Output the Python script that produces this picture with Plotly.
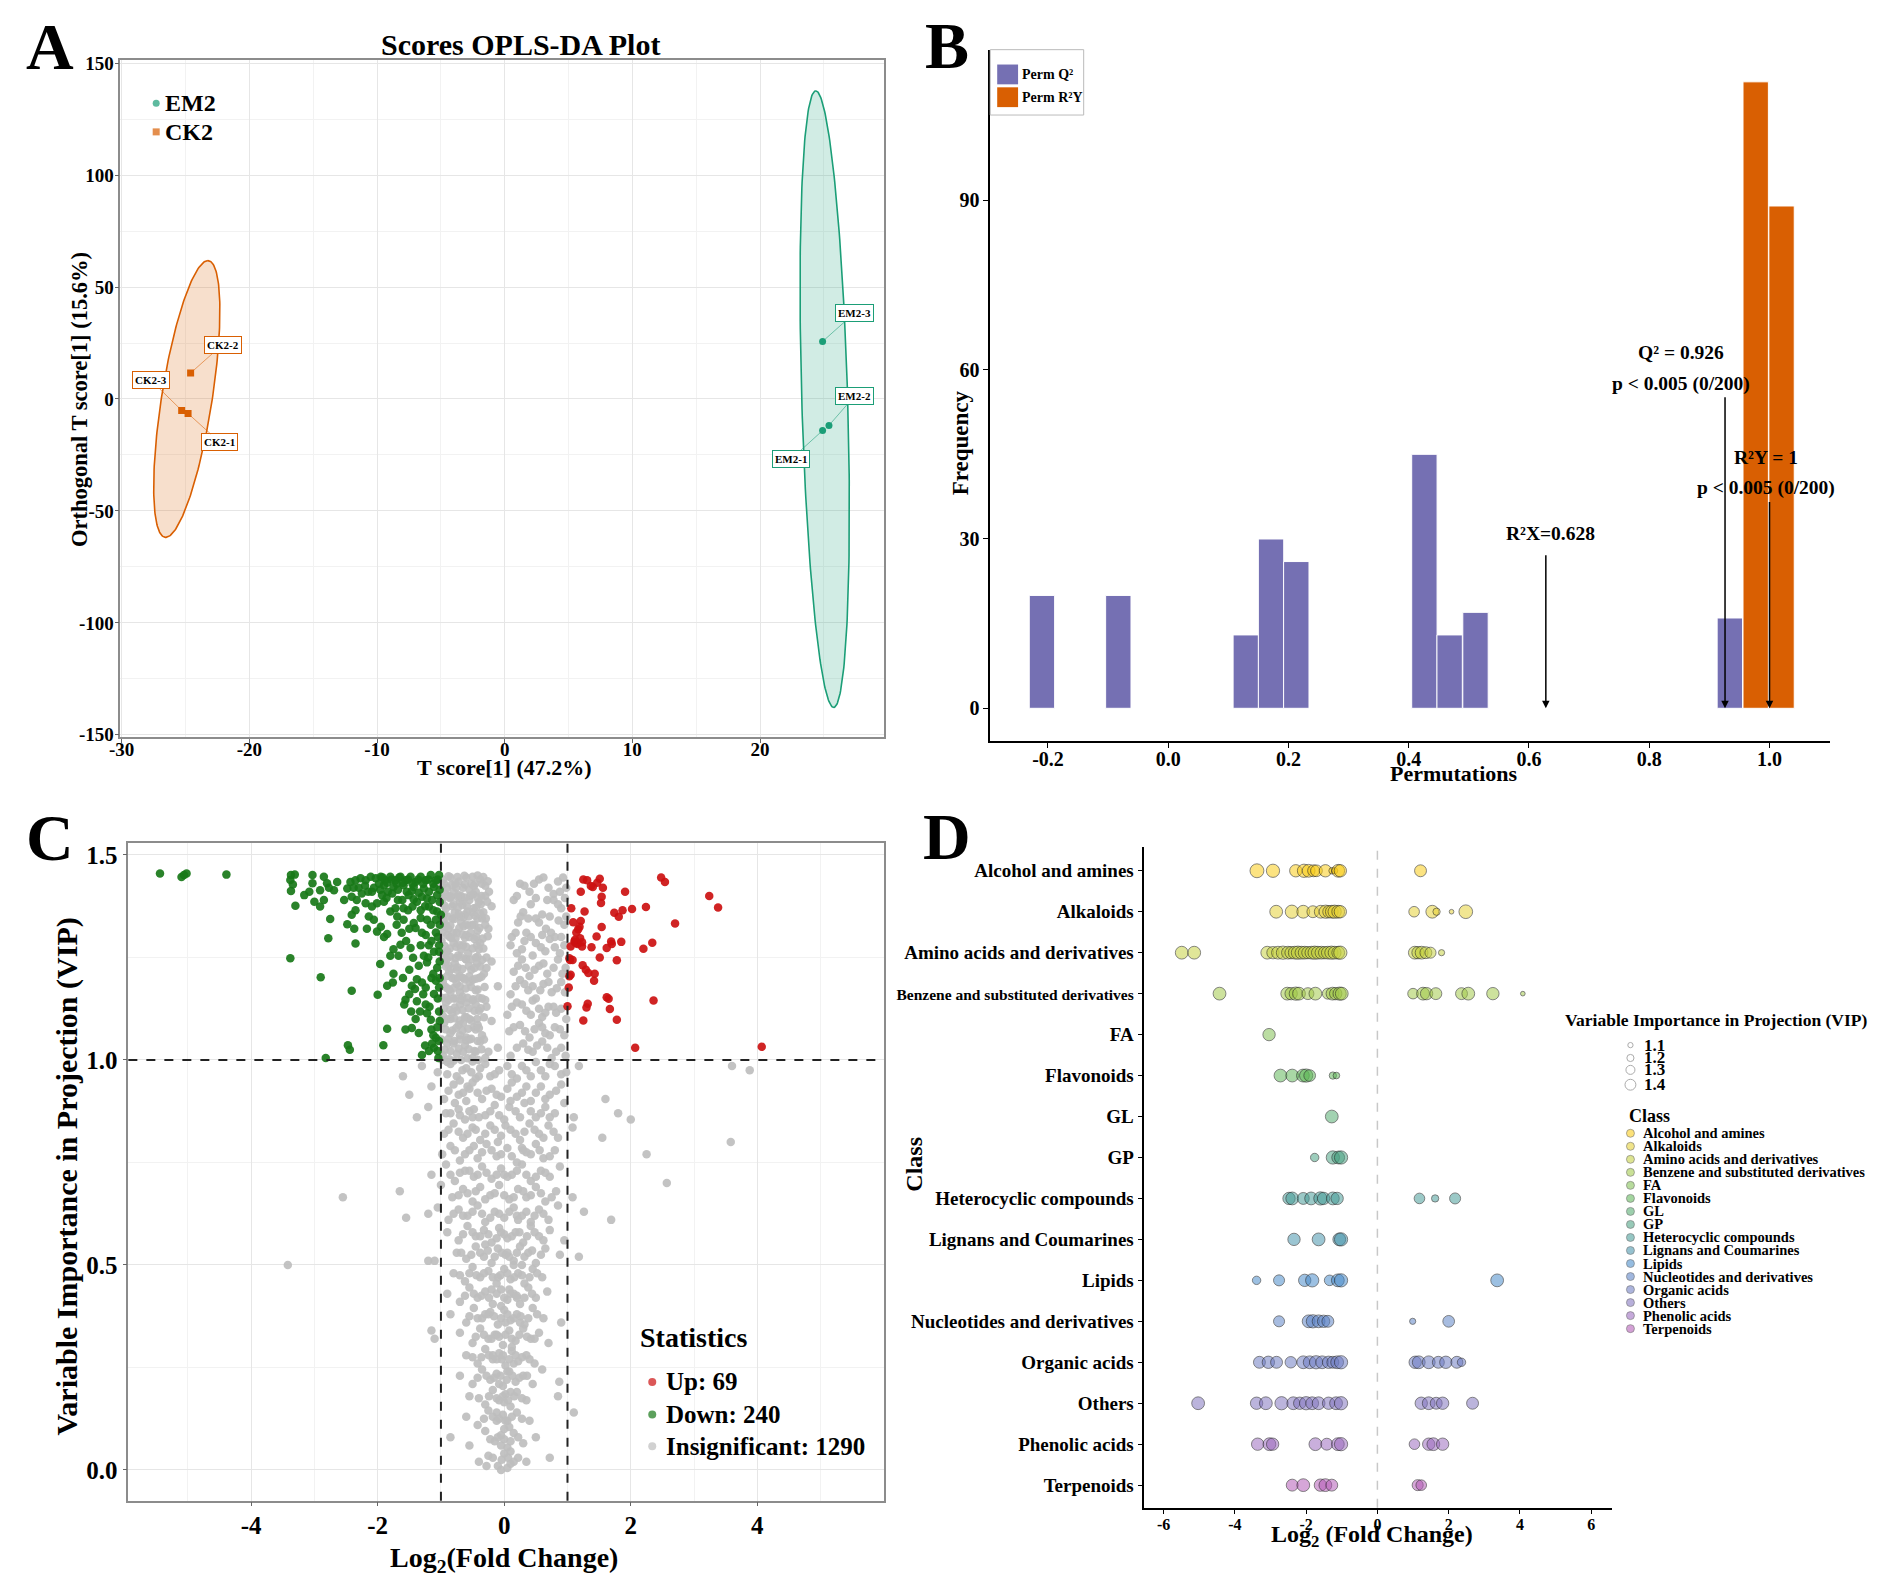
import numpy as np
import plotly.graph_objects as go

W, H = 1881, 1594
PAD = 8                      # default body margin of the html page
FW, FH = W - 2 * PAD, H - 2 * PAD
FONT = "Liberation Serif"


def px(x):
    return (x - PAD) / FW


def py(y):
    return 1 - (y - PAD) / FH


def rgba(hex_col, a):
    h = hex_col.lstrip("#")
    return "rgba(%d,%d,%d,%.2f)" % (int(h[0:2], 16), int(h[2:4], 16), int(h[4:6], 16), a)


##########
# A : OPLS-DA scores
##########
em2_names = ["EM2-1", "EM2-2", "EM2-3"]
em2_t = [24.9, 25.4, 24.9]
em2_o = [-14.1, -11.8, 25.7]
ck2_names = ["CK2-1", "CK2-2", "CK2-3"]
ck2_t = [-24.8, -24.6, -25.3]
ck2_o = [-6.5, 11.6, -5.1]
# where the repel labels sit
em2_lab_t = [22.4, 27.4, 27.4]
em2_lab_o = [-27.0, 1.3, 38.4]
ck2_lab_t = [-22.3, -22.1, -27.7]
ck2_lab_o = [-19.4, 24.3, 8.3]
# ellipse: (x shift at top, half height, half width at centre)
em2_ell = [-0.7, 137.7, 1.8]
ck2_ell = [1.65, 61.8, 2.0]
a_xticks = [-30, -20, -10, 0, 10, 20]
a_yticks = [-150, -100, -50, 0, 50, 100, 150]

##########
# B : permutation histogram
##########
q2_bins = [-0.210, -0.083, 0.129, 0.171, 0.213, 0.426, 0.468, 0.511, 0.934]
q2_counts = [20, 20, 13, 30, 26, 45, 13, 17, 16]
r2y_bins = [0.977, 1.020]
r2y_counts = [111, 89]
bin_w = 0.0422
b_xticks = [-0.2, 0.0, 0.2, 0.4, 0.6, 0.8, 1.0]
b_yticks = [0, 30, 60, 90]
r2x_val, q2_val, r2y_val = 0.628, 0.926, 1.0

##########
# C : volcano (log2FC, VIP)
##########
up_pts = [(1.25, 1.44), (1.31, 1.438), (1.51, 1.442), (1.47, 1.432), (1.40, 1.422), (1.56, 1.42),
          (1.21, 1.41), (1.54, 1.398), (1.53, 1.383), (1.91, 1.41), (2.48, 1.445), (2.54, 1.434),
          (3.24, 1.40), (3.38, 1.372), (1.06, 1.37), (1.27, 1.362), (1.74, 1.359), (1.81, 1.349),
          (1.87, 1.365), (2.02, 1.368), (2.24, 1.373), (2.70, 1.333), (1.09, 1.336), (1.21, 1.339),
          (1.54, 1.324), (1.17, 1.319), (1.14, 1.311), (1.20, 1.297), (1.46, 1.301), (1.11, 1.289),
          (1.16, 1.283), (1.23, 1.277), (1.38, 1.275), (1.69, 1.289), (1.70, 1.283), (1.62, 1.273),
          (1.85, 1.288), (2.20, 1.271), (2.34, 1.286), (1.04, 1.244), (1.08, 1.244), (1.51, 1.25),
          (1.78, 1.243), (1.24, 1.231), (1.29, 1.22), (1.33, 1.212), (1.43, 1.21), (1.42, 1.193),
          (1.03, 1.204), (1.02, 1.177), (1.62, 1.153), (1.65, 1.149), (2.36, 1.145), (1.32, 1.137),
          (1.30, 1.128), (1.00, 1.131), (1.67, 1.124), (1.25, 1.096), (1.78, 1.098), (2.07, 1.03),
          (4.07, 1.032), (1.13, 1.285), (1.05, 1.277), (1.19, 1.325), (1.03, 1.248), (1.12, 1.293),
          (1.23, 1.287), (1.37, 1.424), (1.05, 1.208)]

down_pts = [(-5.44, 1.455), (-5.10, 1.446), (-5.06, 1.451), (-5.02, 1.455), (-4.39, 1.452),
            (-3.37, 1.451), (-3.31, 1.452), (-3.38, 1.439), (-3.34, 1.428), (-3.37, 1.412),
            (-3.30, 1.376), (-3.16, 1.402), (-3.08, 1.41), (-3.03, 1.451), (-3.03, 1.431),
            (-2.91, 1.414), (-2.85, 1.447), (-2.80, 1.431), (-2.77, 1.42), (-2.64, 1.434),
            (-2.69, 1.414), (-3.00, 1.386), (-2.91, 1.374), (-2.85, 1.39), (-2.75, 1.344),
            (-2.78, 1.297), (-3.38, 1.248), (-2.90, 1.202), (-2.53, 1.39), (-2.48, 1.418),
            (-2.43, 1.434), (-2.35, 1.438), (-2.27, 1.443), (-2.19, 1.438), (-2.11, 1.447),
            (-2.03, 1.443), (-1.95, 1.447), (-1.88, 1.438), (-1.80, 1.447), (-1.72, 1.438),
            (-1.64, 1.447), (-1.56, 1.438), (-1.48, 1.447), (-1.40, 1.434), (-1.32, 1.447),
            (-1.24, 1.438), (-1.16, 1.451), (-1.08, 1.438), (-1.03, 1.451), (-1.90, 1.426),
            (-1.75, 1.422), (-1.59, 1.426), (-1.43, 1.422), (-1.27, 1.418), (-1.11, 1.422),
            (-2.41, 1.398), (-2.33, 1.39), (-2.25, 1.406), (-2.09, 1.41), (-1.93, 1.402),
            (-1.77, 1.406), (-1.61, 1.39), (-1.51, 1.402), (-1.38, 1.386), (-1.22, 1.394),
            (-1.06, 1.402), (-2.35, 1.365), (-2.19, 1.382), (-2.09, 1.374), (-2.01, 1.382),
            (-1.90, 1.386), (-1.80, 1.362), (-1.69, 1.35), (-1.59, 1.37), (-1.45, 1.374),
            (-1.32, 1.365), (-1.19, 1.374), (-1.06, 1.362), (-2.41, 1.354), (-2.14, 1.35),
            (-2.06, 1.342), (-1.95, 1.325), (-1.85, 1.307), (-2.01, 1.313), (-2.17, 1.32),
            (-2.48, 1.331), (-2.37, 1.32), (-2.35, 1.284), (-1.59, 1.342), (-1.43, 1.334),
            (-1.40, 1.322), (-1.32, 1.346), (-1.22, 1.342), (-1.16, 1.33), (-1.08, 1.342),
            (-1.00, 1.354), (-1.24, 1.305), (-1.08, 1.311), (-1.64, 1.281), (-1.75, 1.27),
            (-1.80, 1.254), (-1.67, 1.254), (-1.48, 1.273), (-1.44, 1.249), (-1.32, 1.28),
            (-1.27, 1.254), (-1.22, 1.238), (-1.19, 1.28), (-1.11, 1.264), (-1.03, 1.28),
            (-1.03, 1.264), (-1.96, 1.234), (-1.75, 1.21), (-1.85, 1.181), (-1.76, 1.189),
            (-2.00, 1.159), (-2.41, 1.169), (-1.46, 1.181), (-1.38, 1.197), (-1.30, 1.189),
            (-1.41, 1.173), (-1.24, 1.177), (-1.12, 1.21), (-1.08, 1.193), (-1.03, 1.177),
            (-1.11, 1.161), (-1.56, 1.147), (-1.58, 1.135), (-1.47, 1.118), (-1.38, 1.143),
            (-1.24, 1.135), (-1.33, 1.118), (-1.22, 1.114), (-1.16, 1.098), (-1.03, 1.118),
            (-1.85, 1.076), (-1.56, 1.074), (-1.46, 1.078), (-1.35, 1.066), (-1.15, 1.074),
            (-1.08, 1.054), (-1.03, 1.046), (-1.11, 1.03), (-1.19, 1.022), (-1.30, 1.012),
            (-1.05, 1.022), (-2.47, 1.036), (-2.44, 1.025), (-1.91, 1.036), (-2.82, 1.005),
            # packed band just under the top
            (-1.98, 1.43), (-1.92, 1.445), (-1.85, 1.432), (-1.78, 1.44), (-1.70, 1.43), (-1.66, 1.445),
            (-1.60, 1.432), (-1.52, 1.44), (-1.45, 1.43), (-1.36, 1.44), (-1.28, 1.43), (-1.20, 1.44),
            (-1.12, 1.43), (-1.05, 1.44), (-1.96, 1.415), (-1.84, 1.41), (-1.68, 1.415), (-1.54, 1.41),
            (-1.46, 1.412), (-1.35, 1.408), (-1.19, 1.41), (-1.02, 1.415), (-2.20, 1.425), (-2.15, 1.41),
            (-2.06, 1.42), (-2.30, 1.42), (-2.38, 1.42), (-1.86, 1.395), (-1.68, 1.39), (-1.43, 1.392),
            (-1.30, 1.398), (-1.14, 1.39), (-1.02, 1.385), (-1.72, 1.37), (-1.52, 1.365), (-1.25, 1.375),
            (-1.12, 1.365), (-1.02, 1.33), (-1.05, 1.30), (-1.02, 1.24), (-1.06, 1.225), (-1.02, 1.20),
            (-1.05, 1.15), (-1.02, 1.095), (-1.06, 1.08), (-1.04, 1.005), (-1.14, 1.04), (-1.25, 1.035),
            (-1.50, 1.32), (-1.62, 1.31), (-1.70, 1.33), (-1.90, 1.30), (-1.55, 1.29), (-1.30, 1.31),
            (-1.15, 1.29), (-1.20, 1.25), (-1.35, 1.23), (-1.50, 1.22), (-1.60, 1.20), (-1.15, 1.20),
            (-1.28, 1.16), (-1.50, 1.16), (-1.18, 1.13), (-1.40, 1.10), (-1.12, 1.06)]

insig_pts = [
    (-0.97, 1.44), (-0.9, 1.42), (-0.85, 1.445), (-0.8, 1.41), (-0.72, 1.435), (-0.65, 1.42), (-0.6, 1.445),
    (-0.52, 1.43), (-0.45, 1.41), (-0.38, 1.44), (-0.3, 1.425), (0.25, 1.43), (0.4, 1.41), (0.55, 1.44),
    (0.7, 1.42), (0.85, 1.435), (0.93, 1.445), (-0.93, 1.405), (-0.68, 1.40), (-0.55, 1.415), (0.62, 1.445),
    (0.78, 1.405),
    (-0.98, 1.39), (-0.92, 1.37), (-0.86, 1.395), (-0.78, 1.36), (-0.7, 1.385), (-0.62, 1.355), (-0.55, 1.39),
    (-0.48, 1.37), (-0.4, 1.385), (-0.33, 1.36), (-0.2, 1.375), (0.15, 1.39), (0.3, 1.36), (0.42, 1.38),
    (0.6, 1.355), (0.78, 1.39), (0.9, 1.37), (-0.95, 1.355), (-0.74, 1.398), (-0.58, 1.362),
    (-0.96, 1.34), (-0.88, 1.32), (-0.82, 1.345), (-0.75, 1.31), (-0.68, 1.335), (-0.6, 1.305), (-0.5, 1.33),
    (-0.42, 1.315), (-0.35, 1.345), (-0.25, 1.32), (0.12, 1.30), (0.22, 1.335), (0.35, 1.31), (0.5, 1.345),
    (0.66, 1.32), (0.8, 1.30), (0.95, 1.33), (-0.9, 1.305), (-0.64, 1.348),
    (-0.99, 1.29), (-0.9, 1.265), (-0.8, 1.285), (-0.73, 1.255), (-0.65, 1.28), (-0.57, 1.26), (-0.47, 1.295),
    (-0.4, 1.27), (-0.28, 1.25), (0.1, 1.28), (0.2, 1.26), (0.32, 1.29), (0.45, 1.255), (0.58, 1.275),
    (0.72, 1.295), (0.88, 1.26), (-0.85, 1.252), (-0.62, 1.298),
    (-0.95, 1.24), (-0.87, 1.215), (-0.78, 1.235), (-0.7, 1.205), (-0.6, 1.245), (-0.52, 1.22), (-0.43, 1.235),
    (-0.32, 1.21), (-0.2, 1.24), (0.15, 1.215), (0.28, 1.245), (0.4, 1.205), (0.55, 1.23), (0.68, 1.21),
    (0.85, 1.245), (0.97, 1.225), (-0.82, 1.2),
    (-0.97, 1.19), (-0.85, 1.165), (-0.75, 1.185), (-0.66, 1.155), (-0.55, 1.19), (-0.45, 1.17), (-0.35, 1.15),
    (-0.1, 1.18), (0.1, 1.16), (0.25, 1.195), (0.38, 1.17), (0.5, 1.15), (0.62, 1.185), (0.75, 1.165),
    (0.9, 1.19), (-0.92, 1.152),
    (-0.92, 1.14), (-0.82, 1.115), (-0.7, 1.135), (-0.6, 1.105), (-0.5, 1.145), (-0.4, 1.12), (-0.28, 1.13),
    (0.05, 1.11), (0.2, 1.14), (0.35, 1.12), (0.45, 1.145), (0.6, 1.105), (0.7, 1.13), (0.82, 1.115),
    (-0.97, 1.108),
    (-0.95, 1.09), (-0.85, 1.065), (-0.72, 1.085), (-0.6, 1.055), (-0.48, 1.08), (-0.35, 1.06), (-0.2, 1.095),
    (0.08, 1.07), (0.25, 1.085), (0.4, 1.055), (0.55, 1.09), (0.65, 1.065), (0.8, 1.08), (0.95, 1.06),
    (-0.9, 1.04), (-0.75, 1.015), (-0.62, 1.035), (-0.5, 1.005), (-0.38, 1.045), (-0.25, 1.02), (-0.1, 1.03),
    (0.1, 1.01), (0.3, 1.04), (0.45, 1.02), (0.6, 1.045), (0.75, 1.005), (0.9, 1.03), (-0.97, 1.012),
    (-1.6, 0.96), (-1.3, 0.985), (-1.05, 0.97), (-0.9, 0.995), (-0.75, 0.96), (-0.6, 0.98), (-0.45, 0.955),
    (-0.3, 0.99), (-0.15, 0.965), (0.05, 0.985), (0.2, 0.955), (0.35, 0.975), (0.5, 0.995), (0.65, 0.96),
    (0.8, 0.985), (0.98, 0.97), (1.18, 0.985), (3.6, 0.985), (3.88, 0.975),
    (-1.5, 0.915), (-1.15, 0.935), (-0.95, 0.905), (-0.8, 0.94), (-0.65, 0.92), (-0.5, 0.945), (-0.35, 0.905),
    (-0.2, 0.93), (-0.05, 0.91), (0.12, 0.945), (0.28, 0.92), (0.42, 0.9), (0.58, 0.935), (0.72, 0.915),
    (0.9, 0.94), (1.6, 0.905),
    (-1.38, 0.86), (-1.2, 0.885), (-0.92, 0.87), (-0.78, 0.895), (-0.62, 0.855), (-0.48, 0.88), (-0.3, 0.865),
    (-0.15, 0.89), (0.0, 0.855), (0.18, 0.875), (0.32, 0.895), (0.5, 0.86), (0.65, 0.885), (0.8, 0.87),
    (0.95, 0.895), (1.1, 0.86), (1.8, 0.87), (2.0, 0.855),
    (-0.95, 0.82), (-0.8, 0.845), (-0.65, 0.81), (-0.5, 0.835), (-0.38, 0.805), (-0.22, 0.84), (-0.05, 0.815),
    (0.1, 0.83), (0.25, 0.805), (0.4, 0.845), (0.55, 0.82), (0.7, 0.84), (0.85, 0.81), (1.08, 0.835),
    (1.55, 0.81), (3.58, 0.8),
    (-0.98, 0.77), (-0.85, 0.79), (-0.7, 0.755), (-0.55, 0.78), (-0.42, 0.76), (-0.28, 0.795), (-0.12, 0.765),
    (0.05, 0.785), (0.2, 0.75), (0.35, 0.775), (0.5, 0.795), (0.62, 0.76), (0.8, 0.78), (2.25, 0.77),
    (-1.15, 0.72), (-0.92, 0.745), (-0.78, 0.705), (-0.62, 0.73), (-0.48, 0.715), (-0.35, 0.74), (-0.2, 0.71),
    (-0.05, 0.735), (0.12, 0.72), (0.28, 0.745), (0.42, 0.705), (0.58, 0.73), (0.72, 0.715), (0.88, 0.74),
    (2.57, 0.7),
    (-2.55, 0.665), (-1.65, 0.68), (-1.0, 0.695), (-0.82, 0.665), (-0.65, 0.685), (-0.5, 0.655), (-0.38, 0.69),
    (-0.22, 0.67), (-0.08, 0.695), (0.08, 0.66), (0.22, 0.685), (0.35, 0.665), (0.5, 0.69), (0.65, 0.655),
    (0.82, 0.68), (1.08, 0.665),
    (-1.55, 0.615), (-1.2, 0.625), (-1.05, 0.64), (-0.88, 0.61), (-0.72, 0.635), (-0.58, 0.62), (-0.42, 0.645),
    (-0.3, 0.605), (-0.15, 0.63), (0.0, 0.615), (0.15, 0.64), (0.28, 0.62), (0.42, 0.605), (0.55, 0.635),
    (0.7, 0.61), (0.85, 0.645), (1.26, 0.63), (1.69, 0.61),
    (-0.9, 0.58), (-0.72, 0.56), (-0.58, 0.595), (-0.45, 0.57), (-0.32, 0.585), (-0.2, 0.555), (-0.08, 0.59),
    (0.05, 0.565), (0.18, 0.58), (0.3, 0.555), (0.42, 0.595), (0.55, 0.57), (0.72, 0.585), (0.95, 0.56),
    (-3.42, 0.5), (-1.2, 0.51), (-1.1, 0.51), (-0.75, 0.53), (-0.6, 0.515), (-0.45, 0.545), (-0.32, 0.52),
    (-0.2, 0.505), (-0.1, 0.54), (0.02, 0.525), (0.15, 0.51), (0.25, 0.545), (0.38, 0.53), (0.5, 0.505),
    (0.65, 0.54), (0.88, 0.525), (1.18, 0.52),
    (-0.8, 0.48), (-0.62, 0.46), (-0.5, 0.495), (-0.38, 0.47), (-0.25, 0.485), (-0.12, 0.455), (0.0, 0.49),
    (0.1, 0.465), (0.22, 0.48), (0.32, 0.455), (0.45, 0.49), (0.6, 0.47),
    (-0.9, 0.43), (-0.7, 0.41), (-0.55, 0.445), (-0.42, 0.42), (-0.3, 0.435), (-0.18, 0.405), (-0.05, 0.44),
    (0.05, 0.415), (0.15, 0.43), (0.25, 0.405), (0.38, 0.445), (0.5, 0.42), (0.68, 0.435),
    (-0.85, 0.38), (-0.6, 0.36), (-0.48, 0.395), (-0.35, 0.37), (-0.22, 0.385), (-0.1, 0.355), (0.0, 0.39),
    (0.1, 0.365), (0.2, 0.38), (0.32, 0.355), (0.45, 0.395), (0.62, 0.37), (0.9, 0.36),
    (-1.15, 0.34), (-1.1, 0.32), (-0.7, 0.335), (-0.5, 0.31), (-0.38, 0.345), (-0.25, 0.32), (-0.12, 0.33),
    (-0.02, 0.305), (0.08, 0.34), (0.18, 0.315), (0.3, 0.345), (0.42, 0.32), (0.55, 0.335), (0.7, 0.31),
    (-0.6, 0.28), (-0.42, 0.26), (-0.3, 0.295), (-0.18, 0.27), (-0.08, 0.285), (0.02, 0.255), (0.12, 0.29),
    (0.22, 0.265), (0.35, 0.28), (0.48, 0.26),
    (-0.7, 0.23), (-0.5, 0.21), (-0.35, 0.245), (-0.22, 0.22), (-0.12, 0.235), (-0.02, 0.205), (0.08, 0.24),
    (0.18, 0.215), (0.3, 0.23), (0.45, 0.21), (0.6, 0.245), (0.87, 0.215),
    (-0.55, 0.18), (-0.3, 0.16), (-0.18, 0.195), (-0.08, 0.17), (0.02, 0.185), (0.1, 0.155), (0.2, 0.19),
    (0.35, 0.17), (0.85, 0.18),
    (-0.6, 0.13), (-0.42, 0.11), (-0.25, 0.145), (-0.12, 0.12), (-0.02, 0.135), (0.08, 0.105), (0.2, 0.14),
    (0.4, 0.12), (1.1, 0.14),
    (-0.85, 0.08), (-0.55, 0.06), (-0.3, 0.095), (-0.15, 0.07), (-0.05, 0.085), (0.05, 0.055), (0.15, 0.09),
    (0.3, 0.065), (0.5, 0.08),
    (-0.4, 0.02), (-0.25, 0.035), (-0.1, 0.01), (0.0, 0.04), (0.1, 0.015), (0.22, 0.03), (0.35, 0.02),
    (0.72, 0.03), (-0.05, 0.0), (0.05, 0.005),
    # solid block, upper left of the funnel
    (-0.95, 1.43), (-0.88, 1.40), (-0.82, 1.375), (-0.76, 1.42), (-0.7, 1.35), (-0.66, 1.39), (-0.6, 1.33),
    (-0.54, 1.40), (-0.5, 1.36), (-0.46, 1.43), (-0.42, 1.345), (-0.36, 1.4), (-0.92, 1.33), (-0.86, 1.30),
    (-0.8, 1.31), (-0.7, 1.28), (-0.55, 1.3), (-0.45, 1.25), (-0.38, 1.285), (-0.93, 1.26), (-0.88, 1.23),
    (-0.75, 1.22), (-0.65, 1.2), (-0.5, 1.195), (-0.4, 1.2), (-0.9, 1.175), (-0.8, 1.15), (-0.7, 1.165),
    (-0.6, 1.14), (-0.45, 1.135), (-0.85, 1.1), (-0.75, 1.12), (-0.65, 1.09), (-0.55, 1.1), (-0.42, 1.085),
    (-0.8, 1.04), (-0.7, 1.06), (-0.55, 1.05), (-0.45, 1.02), (-0.85, 0.99), (-0.7, 0.95), (-0.55, 0.93),
    (-0.4, 0.96), (-0.6, 0.9), (-0.72, 0.88), (-0.5, 0.86),
    (-0.88, 1.448), (-0.74, 1.446), (-0.63, 1.449), (-0.5, 1.447), (-0.42, 1.45), (-0.33, 1.446),
    (-0.99, 1.425), (-0.83, 1.427), (-0.77, 1.43), (-0.62, 1.428), (-0.48, 1.424), (-0.35, 1.43), (-0.26, 1.436),
    (-0.97, 1.40), (-0.84, 1.398), (-0.72, 1.402), (-0.61, 1.396), (-0.49, 1.404), (-0.42, 1.395), (-0.3, 1.4),
    (-0.24, 1.41), (-0.94, 1.376), (-0.8, 1.38), (-0.73, 1.372), (-0.66, 1.378), (-0.59, 1.375), (-0.44, 1.372),
    (-0.37, 1.38), (-0.27, 1.386), (-0.99, 1.35), (-0.89, 1.35), (-0.79, 1.344), (-0.72, 1.356), (-0.56, 1.35),
    (-0.46, 1.352), (-0.38, 1.357), (-0.29, 1.345), (-0.93, 1.325), (-0.85, 1.328), (-0.71, 1.322),
    (-0.64, 1.326), (-0.55, 1.328), (-0.47, 1.33), (-0.39, 1.322), (-0.3, 1.33), (-0.98, 1.31), (-0.84, 1.298),
    (-0.77, 1.296), (-0.66, 1.306), (-0.53, 1.31), (-0.44, 1.3), (-0.34, 1.296), (-0.26, 1.302),
    (-0.94, 1.278), (-0.86, 1.272), (-0.76, 1.276), (-0.68, 1.27), (-0.6, 1.276), (-0.5, 1.272), (-0.43, 1.28),
    (-0.33, 1.272), (-0.97, 1.25), (-0.91, 1.245), (-0.77, 1.248), (-0.69, 1.252), (-0.61, 1.246),
    (-0.53, 1.245), (-0.42, 1.252), (-0.35, 1.244), (-0.92, 1.228), (-0.83, 1.222), (-0.74, 1.226),
    (-0.66, 1.222), (-0.56, 1.23), (-0.47, 1.224), (-0.38, 1.228), (-0.28, 1.224), (-0.99, 1.2), (-0.9, 1.205),
    (-0.79, 1.198), (-0.72, 1.202), (-0.62, 1.196), (-0.55, 1.204), (-0.45, 1.198), (-0.36, 1.203),
    (-0.94, 1.18), (-0.87, 1.172), (-0.79, 1.176), (-0.7, 1.18), (-0.61, 1.174), (-0.52, 1.178), (-0.42, 1.172),
    (-0.31, 1.178), (-0.99, 1.152), (-0.88, 1.146), (-0.77, 1.15), (-0.68, 1.146), (-0.58, 1.152),
    (-0.49, 1.148), (-0.4, 1.152), (-0.3, 1.146), (-0.95, 1.126), (-0.86, 1.122), (-0.78, 1.128),
    (-0.66, 1.122), (-0.56, 1.126), (-0.47, 1.12), (-0.37, 1.126), (-0.99, 1.098), (-0.9, 1.1), (-0.79, 1.102),
    (-0.7, 1.096), (-0.62, 1.104), (-0.52, 1.096), (-0.43, 1.1), (-0.32, 1.104), (-0.93, 1.075),
    (-0.82, 1.072), (-0.76, 1.078), (-0.66, 1.072), (-0.57, 1.076), (-0.45, 1.074), (-0.4, 1.078),
    (-0.99, 1.05), (-0.88, 1.052), (-0.79, 1.046), (-0.7, 1.05), (-0.6, 1.048), (-0.52, 1.052), (-0.42, 1.046),
    (-0.32, 1.05), (-0.94, 1.025), (-0.85, 1.022), (-0.72, 1.028), (-0.65, 1.02), (-0.56, 1.026),
    (-0.47, 1.022), (-0.36, 1.026), (-0.98, 1.0), (-0.87, 1.002), (-0.8, 0.998), (-0.68, 1.0), (-0.58, 1.004),
    (-0.5, 0.996), (-0.41, 1.0), (-0.3, 1.005),
    # upper right of the funnel
    (0.32, 1.425), (0.47, 1.43), (0.88, 1.41), (0.98, 1.42), (0.2, 1.4), (0.5, 1.395), (0.68, 1.39),
    (0.85, 1.38), (0.96, 1.395), (0.26, 1.35), (0.38, 1.345), (0.55, 1.335), (0.72, 1.35), (0.86, 1.34),
    (0.98, 1.35), (0.18, 1.31), (0.42, 1.3), (0.6, 1.305), (0.74, 1.31), (0.9, 1.3), (0.28, 1.27), (0.5, 1.285),
    (0.65, 1.265), (0.8, 1.275), (0.95, 1.28), (0.22, 1.23), (0.34, 1.225), (0.48, 1.22), (0.62, 1.235),
    (0.78, 1.225), (0.92, 1.21), (0.18, 1.18), (0.32, 1.185), (0.45, 1.18), (0.57, 1.17), (0.7, 1.19),
    (0.83, 1.175), (0.96, 1.165), (0.12, 1.13), (0.28, 1.135), (0.42, 1.11), (0.55, 1.125), (0.65, 1.115),
    (0.78, 1.13), (0.9, 1.125), (0.98, 1.1), (0.15, 1.08), (0.33, 1.07), (0.48, 1.075), (0.6, 1.08),
    (0.72, 1.06), (0.88, 1.075), (0.2, 1.03), (0.38, 1.025), (0.52, 1.035), (0.68, 1.03), (0.82, 1.02),
    (0.97, 1.01),
    # body of the funnel
    (-0.9, 0.965), (-0.66, 0.975), (-0.52, 0.97), (-0.38, 0.98), (-0.22, 0.96), (-0.08, 0.975), (0.12, 0.965),
    (0.28, 0.985), (0.42, 0.96), (0.58, 0.975), (0.72, 0.99), (0.9, 0.965), (-0.88, 0.925), (-0.72, 0.915),
    (-0.58, 0.935), (-0.42, 0.92), (-0.28, 0.925), (-0.12, 0.915), (0.05, 0.93), (0.2, 0.91), (0.35, 0.935),
    (0.5, 0.92), (0.65, 0.905), (0.82, 0.925), (-0.85, 0.87), (-0.7, 0.865), (-0.55, 0.875), (-0.4, 0.86),
    (-0.22, 0.875), (-0.08, 0.865), (0.08, 0.885), (0.25, 0.86), (0.42, 0.875), (0.58, 0.87), (0.72, 0.86),
    (-0.88, 0.83), (-0.72, 0.825), (-0.58, 0.82), (-0.45, 0.83), (-0.3, 0.82), (-0.15, 0.83), (0.02, 0.84),
    (0.18, 0.82), (0.32, 0.825), (0.48, 0.83), (0.62, 0.81), (0.78, 0.825), (-0.78, 0.78), (-0.62, 0.77),
    (-0.48, 0.79), (-0.35, 0.775), (-0.2, 0.78), (-0.05, 0.77), (0.12, 0.765), (0.28, 0.785), (0.42, 0.77),
    (0.56, 0.78), (0.72, 0.765), (-0.85, 0.72), (-0.7, 0.725), (-0.55, 0.73), (-0.42, 0.72), (-0.28, 0.725),
    (-0.12, 0.72), (0.05, 0.715), (0.2, 0.73), (0.35, 0.72), (0.5, 0.715), (0.65, 0.725), (-0.72, 0.67),
    (-0.58, 0.675), (-0.45, 0.68), (-0.3, 0.66), (-0.15, 0.675), (0.0, 0.67), (0.15, 0.665), (0.3, 0.68),
    (0.42, 0.67), (0.58, 0.675), (0.75, 0.665), (-0.8, 0.625), (-0.65, 0.62), (-0.5, 0.63), (-0.35, 0.625),
    (-0.22, 0.615), (-0.08, 0.625), (0.08, 0.63), (0.22, 0.61), (0.35, 0.63), (0.48, 0.62), (0.62, 0.625),
    # stem of the funnel
    (-0.05, 0.58), (0.05, 0.53), (-0.1, 0.47), (0.08, 0.44), (-0.05, 0.4), (0.02, 0.36), (-0.15, 0.33),
    (0.12, 0.3), (-0.04, 0.27), (0.05, 0.24), (-0.08, 0.21), (0.1, 0.19), (0.0, 0.165), (-0.12, 0.14),
    (0.05, 0.12), (0.0, 0.1), (-0.05, 0.06), (0.1, 0.045), (0.15, 0.5), (0.2, 0.42), (-0.2, 0.44),
    (-0.25, 0.38), (0.25, 0.36), (-0.18, 0.28), (0.15, 0.26), (0.28, 0.5), (-0.3, 0.55), (0.0, 0.72),
    (-0.1, 0.8), (0.1, 0.9), (0.2, 0.62), (0.3, 0.78),
    (-0.65, 0.575), (-0.5, 0.58), (-0.38, 0.57), (-0.25, 0.575), (-0.12, 0.565), (0.0, 0.575), (0.12, 0.57),
    (0.24, 0.58), (0.36, 0.57), (0.48, 0.58), (0.62, 0.56), (-0.68, 0.53), (-0.52, 0.525), (-0.38, 0.53),
    (-0.26, 0.535), (-0.15, 0.52), (-0.04, 0.53), (0.08, 0.52), (0.2, 0.53), (0.32, 0.52), (0.44, 0.535),
    (0.58, 0.525), (-0.7, 0.475), (-0.55, 0.48), (-0.44, 0.475), (-0.32, 0.48), (-0.18, 0.47), (-0.06, 0.475),
    (0.05, 0.48), (0.16, 0.47), (0.28, 0.475), (0.4, 0.47), (0.52, 0.48), (-0.62, 0.425), (-0.48, 0.43),
    (-0.36, 0.425), (-0.24, 0.42), (-0.12, 0.43), (0.0, 0.42), (0.1, 0.43), (0.2, 0.425), (0.32, 0.42),
    (0.44, 0.43), (-0.55, 0.375), (-0.42, 0.37), (-0.3, 0.38), (-0.16, 0.375), (-0.05, 0.37), (0.05, 0.38),
    (0.15, 0.37), (0.26, 0.375), (0.38, 0.37), (0.52, 0.38), (-0.45, 0.325), (-0.32, 0.33), (-0.2, 0.32),
    (-0.08, 0.325), (0.02, 0.33), (0.12, 0.32), (0.24, 0.33), (0.36, 0.325), (0.48, 0.32), (-0.5, 0.275),
    (-0.36, 0.275), (-0.24, 0.28), (-0.12, 0.27), (-0.02, 0.28), (0.08, 0.27), (0.18, 0.28), (0.28, 0.275),
    (0.4, 0.27), (-0.42, 0.225), (-0.28, 0.23), (-0.16, 0.225), (-0.06, 0.23), (0.04, 0.22), (0.13, 0.23),
    (0.24, 0.225), (0.36, 0.23), (-0.4, 0.175), (-0.24, 0.18), (-0.12, 0.175), (-0.02, 0.18), (0.06, 0.17),
    (0.16, 0.18), (0.28, 0.175), (-0.32, 0.125), (-0.18, 0.13), (-0.08, 0.125), (0.02, 0.12), (0.12, 0.13),
    (0.28, 0.125), (-0.22, 0.075), (-0.1, 0.08), (0.0, 0.075), (0.1, 0.07), (0.22, 0.08), (-0.18, 0.03),
    (-0.04, 0.025), (0.06, 0.03), (0.15, 0.02), (-0.28, 0.01),
]
n_up, n_down, n_insig = 69, 240, 1290
fc_cut, vip_cut = 1.0, 1.0
c_xticks = [-4, -2, 0, 2, 4]
c_yticks = [0.0, 0.5, 1.0, 1.5]

##########
# D : class dot plot (log2FC, size = VIP)
##########
d_classes = ["Alcohol and amines", "Alkaloids", "Amino acids and derivatives",
             "Benzene and substituted derivatives", "FA", "Flavonoids", "GL", "GP",
             "Heterocyclic compounds", "Lignans and Coumarines", "Lipids",
             "Nucleotides and derivatives", "Organic acids", "Others", "Phenolic acids", "Terpenoids"]
d_colors = ["#FACB12", "#E6D030", "#C4D03C", "#A0C845", "#7FBF50", "#5CB555", "#50AA6C", "#47A080",
            "#439A96", "#4392AA", "#4488C8", "#5880C6", "#6B7AC2", "#7F72BE", "#9968BE", "#B157B5"]
d_fc = [
    [-3.38, -2.93, -2.29, -2.06, -1.93, -1.79, -1.71, -1.46, -1.27, -1.2, -1.1, -1.04, 1.21],
    [-2.84, -2.40, -2.08, -1.81, -1.59, -1.45, -1.36, -1.28, -1.20, -1.10, -1.04, 1.03, 1.54, 1.66, 2.08, 2.48],
    [-5.49, -5.14, -3.09, -2.93, -2.79, -2.65, -2.51, -2.42, -2.32, -2.23, -2.13, -2.04, -1.95, -1.85, -1.76,
     -1.67, -1.57, -1.48, -1.39, -1.29, -1.20, -1.10, -1.04, 1.05, 1.14, 1.24, 1.36, 1.49, 1.80],
    [-4.43, -2.53, -2.42, -2.29, -2.20, -1.95, -1.74, -1.39, -1.26, -1.17, -1.06, -1.0, 1.0, 1.28, 1.38, 1.64,
     2.36, 2.55, 3.24, 4.08],
    [-3.04],
    [-2.72, -2.39, -2.09, -2.0, -1.9, -1.25, -1.15],
    [-1.28],
    [-1.76, -1.25, -1.10, -1.02],
    [-2.48, -2.39, -2.08, -1.86, -1.6, -1.51, -1.25, -1.13, 1.18, 1.62, 2.18],
    [-2.34, -1.65, -1.07, -1.02],
    [-3.39, -2.76, -2.04, -1.83, -1.34, -1.11, -1.02, 3.36],
    [-2.76, -1.93, -1.81, -1.65, -1.51, -1.39, 0.99, 2.0],
    [-3.31, -3.06, -2.83, -2.43, -2.08, -1.9, -1.72, -1.55, -1.37, -1.25, -1.13, -1.02, 1.06, 1.16, 1.44,
     1.71, 1.92, 2.23, 2.36],
    [-5.03, -3.39, -3.13, -2.69, -2.36, -2.18, -2.0, -1.83, -1.65, -1.37, -1.16, -1.02, 1.23, 1.44, 1.65,
     1.83, 2.67],
    [-3.36, -3.03, -2.94, -1.74, -1.42, -1.11, -1.02, 1.04, 1.44, 1.57, 1.83],
    [-2.39, -2.08, -1.6, -1.46, -1.28, 1.13, 1.23],
]
d_vip = [
    [1.45, 1.42, 1.38, 1.42, 1.4, 1.36, 1.35, 1.38, 1.12, 1.1, 1.4, 1.38, 1.36],
    [1.4, 1.42, 1.4, 1.36, 1.4, 1.42, 1.38, 1.4, 1.42, 1.4, 1.38, 1.3, 1.4, 1.15, 1.03, 1.44],
    [1.4, 1.4, 1.4, 1.38, 1.4, 1.42, 1.4, 1.38, 1.4, 1.42, 1.4, 1.4, 1.38, 1.4, 1.42, 1.4, 1.4, 1.38, 1.4,
     1.42, 1.4, 1.4, 1.42, 1.4, 1.38, 1.4, 1.36, 1.32, 1.1],
    [1.4, 1.4, 1.38, 1.42, 1.4, 1.36, 1.4, 1.32, 1.4, 1.38, 1.42, 1.4, 1.3, 1.4, 1.38, 1.36, 1.36, 1.4,
     1.38, 1.03],
    [1.38],
    [1.4, 1.4, 1.4, 1.42, 1.35, 1.15, 1.12],
    [1.4],
    [1.2, 1.42, 1.4, 1.42],
    [1.38, 1.4, 1.36, 1.4, 1.42, 1.38, 1.4, 1.38, 1.3, 1.15, 1.32],
    [1.38, 1.4, 1.4, 1.42],
    [1.2, 1.32, 1.38, 1.42, 1.3, 1.4, 1.42, 1.4],
    [1.32, 1.4, 1.42, 1.4, 1.38, 1.36, 1.1, 1.35],
    [1.36, 1.38, 1.36, 1.34, 1.4, 1.4, 1.42, 1.4, 1.38, 1.36, 1.4, 1.42, 1.38, 1.4, 1.4, 1.36, 1.38, 1.36,
     1.2],
    [1.4, 1.38, 1.4, 1.42, 1.4, 1.38, 1.42, 1.4, 1.4, 1.38, 1.4, 1.42, 1.38, 1.4, 1.36, 1.38, 1.36],
    [1.38, 1.4, 1.38, 1.4, 1.36, 1.4, 1.42, 1.3, 1.38, 1.4, 1.38],
    [1.36, 1.4, 1.38, 1.4, 1.36, 1.32, 1.3],
]
vip_keys = [1.1, 1.2, 1.3, 1.4]
d_xticks = [-6, -4, -2, 0, 2, 4, 6]


def vip_size(v):
    return 4 + 22 * (v - 1.0)


EM2_COL, CK2_COL = "#1B9E77", "#D95F02"
PURPLE, ORANGE = "#7570B3", "#D95F02"
UP_COL, DOWN_COL, NS_COL = "#CC1111", "#187818", "#BEBEBE"

fig = go.Figure()

# ---------------- A ----------------
tt = np.linspace(0, 2 * np.pi, 240)
groups_A = [
    (em2_t, em2_o, em2_names, em2_lab_t, em2_lab_o, em2_ell, EM2_COL, "circle"),
    (ck2_t, ck2_o, ck2_names, ck2_lab_t, ck2_lab_o, ck2_ell, CK2_COL, "square"),
]
for t, o, names, lt, lo, ell, col, sym in groups_A:
    cx, cy = np.mean(t), np.mean(o)
    ex = cx + ell[0] * np.cos(tt) + ell[2] * np.sin(tt)
    ey = cy + ell[1] * np.cos(tt)
    fig.add_trace(go.Scatter(x=ex, y=ey, mode="lines", fill="toself", fillcolor=rgba(col, 0.2),
                             line=dict(color=col, width=1.6), xaxis="x", yaxis="y",
                             showlegend=False, hoverinfo="skip"))
    fig.add_trace(go.Scatter(x=t, y=o, mode="markers", marker=dict(color=col, symbol=sym, size=7),
                             xaxis="x", yaxis="y", showlegend=False))
    for n, xx, yy, lx, ly in zip(names, t, o, lt, lo):
        fig.add_annotation(x=xx, y=yy, ax=lx, ay=ly, xref="x", yref="y", axref="x", ayref="y",
                           text=n, showarrow=True, arrowhead=0, arrowwidth=1,
                           arrowcolor=rgba(col, 0.55), standoff=0,
                           font=dict(size=11, color="black"), bgcolor="white",
                           bordercolor=col, borderwidth=1, borderpad=2)

# ---------------- B ----------------
fig.add_trace(go.Bar(x=q2_bins, y=q2_counts, width=bin_w, xaxis="x2", yaxis="y2", showlegend=False,
                     marker=dict(color=PURPLE, line=dict(color="white", width=1))))
fig.add_trace(go.Bar(x=r2y_bins, y=r2y_counts, width=bin_w, xaxis="x2", yaxis="y2", showlegend=False,
                     marker=dict(color=ORANGE, line=dict(color="white", width=1))))
b_arrows = [(r2x_val, 27.4), (q2_val, 55.4), (r2y_val, 36.8)]
for xv, top in b_arrows:
    fig.add_annotation(x=xv, y=0, ax=xv, ay=top, xref="x2", yref="y2", axref="x2", ayref="y2",
                       text="", showarrow=True, arrowhead=2, arrowsize=1, arrowwidth=1.5,
                       arrowcolor="black", standoff=0)
b_texts = [("R²X=0.628", 0.635, 31.0), ("Q² = 0.926", 0.852, 63.0), ("p < 0.005 (0/200)", 0.852, 57.5),
           ("R²Y = 1", 0.994, 44.4), ("p < 0.005 (0/200)", 0.994, 39.0)]
for txt, xv, yv in b_texts:
    fig.add_annotation(x=xv, y=yv, xref="x2", yref="y2", text=txt, showarrow=False,
                       font=dict(size=19.5, color="black"))

# ---------------- C ----------------
for pts, col in [(insig_pts, NS_COL), (down_pts, DOWN_COL), (up_pts, UP_COL)]:
    xs, ys = zip(*pts)
    fig.add_trace(go.Scatter(x=xs, y=ys, mode="markers", xaxis="x3", yaxis="y3", showlegend=False,
                             marker=dict(color=col, size=8.5, opacity=0.92)))

# ---------------- D ----------------
for i, (cls, col) in enumerate(zip(d_classes, d_colors)):
    fig.add_trace(go.Scatter(x=d_fc[i], y=[i] * len(d_fc[i]), mode="markers", xaxis="x4", yaxis="y4",
                             showlegend=False,
                             marker=dict(color=rgba(col, 0.75), size=[vip_size(v) for v in d_vip[i]],
                                         line=dict(color="rgba(30,30,30,0.75)", width=1))))

# ---------------- legends (drawn on a page-sized overlay axis) ----------------
leg_x, leg_y, leg_col, leg_sym, leg_size, leg_line = [], [], [], [], [], []


def key(x, y, col, sym, size, line="rgba(0,0,0,0)"):
    leg_x.append(x)
    leg_y.append(y)
    leg_col.append(col)
    leg_sym.append(sym)
    leg_size.append(size)
    leg_line.append(line)


def label(x, y, txt, size, anchor="left", angle=0):
    fig.add_annotation(x=px(x), y=py(y), xref="paper", yref="paper", text=txt, showarrow=False,
                       xanchor=anchor, yanchor="middle", textangle=angle,
                       font=dict(size=size, color="black"))


# A legend
key(146, 97, EM2_COL, "circle", 7)
key(146, 126, CK2_COL, "square", 7)
label(153, 97, "EM2", 24)
label(153, 126, "CK2", 24)

# B legend
fig.add_shape(type="rect", xref="paper", yref="paper", x0=px(985), x1=px(1079), y0=py(109), y1=py(43),
              line=dict(color="#BBBBBB", width=1), fillcolor="white")
for (yy, col, txt) in [(68, PURPLE, "Perm Q²"), (91, ORANGE, "Perm R²Y")]:
    fig.add_shape(type="rect", xref="paper", yref="paper", x0=px(992), x1=px(1013), y0=py(yy + 10),
                  y1=py(yy - 10), line=dict(width=0), fillcolor=col)
    label(1015, yy, txt, 14)

# C legend
label(686, 1343, "Statistics", 28, "center")
for (yy, col, txt) in [(1388, UP_COL, "Up: %d" % n_up), (1421, DOWN_COL, "Down: %d" % n_down),
                       (1453, NS_COL, "Insignificant: %d" % n_insig)]:
    key(645, yy, col, "circle", 8)
    label(657, yy, txt, 25)

# D legends
label(1715, 1023, "Variable Importance in Projection (VIP)", 17.5, "center")
for yy, v in zip([1048, 1061, 1073, 1088], vip_keys):
    key(1629, yy, "white", "circle", vip_size(v) * 0.85, "#888888")
    label(1641, yy, str(v), 17)
label(1626, 1120, "Class", 18)
for i, (cls, col) in enumerate(zip(d_classes, d_colors)):
    yy = 1137 + 13.15 * i
    key(1629, yy, rgba(col, 0.8), "circle", 8, "rgba(60,60,60,0.6)")
    label(1640, yy, cls, 14.5)

fig.add_trace(go.Scatter(x=leg_x, y=leg_y, mode="markers", xaxis="x5", yaxis="y5", showlegend=False,
                         hoverinfo="skip", cliponaxis=False,
                         marker=dict(color=leg_col, symbol=leg_sym, size=leg_size,
                                     line=dict(color=leg_line, width=1))))

# ---------------- panel letters, titles ----------------
for (lx, ly, letter) in [(39, 40, "A"), (942, 39, "B"), (39, 838, "C"), (942, 837, "D")]:
    label(lx, ly, letter, 66, "center")
label(512, 38, "Scores OPLS-DA Plot", 30, "center")
label(496, 768, "T score[1] (47.2%)", 22, "center")
label(1452, 774, "Permutations", 22, "center")
label(496, 1567, "Log<sub>2</sub>(Fold Change)", 28, "center")
label(1369, 1544, "Log<sub>2</sub> (Fold Change)", 24, "center")
label(69, 396, "Orthogonal T score[1] (15.6%)", 22.5, "center", -90)
label(955, 440, "Frequency", 23, "center", -90)
label(56, 1181, "Variable Importance in Projection (VIP)", 30, "center", -90)
label(908, 1168, "Class", 24, "center", -90)

# ---------------- reference lines ----------------
for xv in (-fc_cut, fc_cut):
    fig.add_shape(type="line", xref="x3", yref="y3 domain", x0=xv, x1=xv, y0=0, y1=1,
                  line=dict(color="#222222", width=2, dash="dash"))
fig.add_shape(type="line", xref="x3 domain", yref="y3", x0=0, x1=1, y0=vip_cut, y1=vip_cut,
              line=dict(color="#222222", width=2, dash="dash"))
fig.add_shape(type="line", xref="x4", yref="y4 domain", x0=0, x1=0, y0=0, y1=1, layer="below",
              line=dict(color="#C8C8C8", width=1.5, dash="dash"))

# ---------------- axes ----------------
tf = lambda s: dict(family=FONT, size=s, color="black", weight="bold")
box = dict(showline=True, mirror=True, linecolor="#8C8C8C", linewidth=1.5, ticks="outside",
           ticklen=4, tickcolor="#666666", showgrid=True, gridcolor="#E6E6E6", gridwidth=1.2,
           zeroline=False)
classic = dict(showline=True, linecolor="black", linewidth=1.5, ticks="outside", ticklen=5,
               tickcolor="black", showgrid=False, zeroline=False)

fig.update_layout(
    width=FW, height=FH, autosize=False, margin=dict(l=0, r=0, t=0, b=0),
    paper_bgcolor="white", plot_bgcolor="rgba(0,0,0,0)", barmode="overlay",
    font=dict(family=FONT, size=18, color="black", weight="bold"),
    xaxis=dict(domain=[px(110), px(878)], anchor="y", range=[-30.1, 29.7], tickvals=a_xticks,
               ticktext=[str(v) for v in a_xticks], tickfont=tf(19), ticklabelstandoff=-10,
               minor=dict(dtick=5, tick0=0, showgrid=True, gridcolor="#F2F2F2"), **box),
    yaxis=dict(domain=[py(737), py(53)], anchor="x", range=[-151, 151.6], tickvals=a_yticks,
               ticktext=[str(v) for v in a_yticks], tickfont=tf(19), ticklabelstandoff=-3,
               minor=dict(dtick=25, tick0=0, showgrid=True, gridcolor="#F2F2F2"), **box),
    xaxis2=dict(domain=[px(985), px(1830)], anchor="y2", range=[-0.296, 1.101], tickvals=b_xticks,
                ticktext=["%.1f" % v if v >= 0 else "-%.1f" % -v for v in b_xticks], tickfont=tf(20),
                ticklabelstandoff=-6, **classic),
    yaxis2=dict(domain=[py(741), py(43)], anchor="x2", range=[-5.8, 116.7], tickvals=b_yticks,
                tickfont=tf(20), **classic),
    xaxis3=dict(domain=[px(118), px(878)], anchor="y3", range=[-5.94, 6.0], tickvals=c_xticks,
                ticktext=[str(v) for v in c_xticks], tickfont=tf(25), ticklabelstandoff=-2,
                minor=dict(dtick=1, tick0=0, showgrid=True, gridcolor="#F2F2F2"), **box),
    yaxis3=dict(domain=[py(1508), py(844)], anchor="x3", range=[-0.075, 1.529], tickvals=c_yticks,
                ticktext=["%.1f" % v for v in c_yticks], tickfont=tf(25),
                minor=dict(dtick=0.25, tick0=0, showgrid=True, gridcolor="#F2F2F2"), **box),
    xaxis4=dict(domain=[px(1140), px(1610)], anchor="y4", range=[-6.54, 6.57], tickvals=d_xticks,
                ticktext=[str(v) for v in d_xticks], tickfont=tf(16), ticklabelstandoff=-4, **classic),
    yaxis4=dict(domain=[py(1515), py(848)], anchor="x4", range=[15.55, -0.58],
                tickvals=list(range(len(d_classes))),
                ticktext=['<span style="font-size:15.5px">%s</span>' % c if len(c) > 30 else c
                          for c in d_classes],
                tickfont=tf(19), **classic),
    xaxis5=dict(domain=[0, 1], anchor="y5", range=[PAD, PAD + FW], visible=False),
    yaxis5=dict(domain=[0, 1], anchor="x5", range=[PAD + FH, PAD], visible=False),
)

fig.write_html("out.html")
